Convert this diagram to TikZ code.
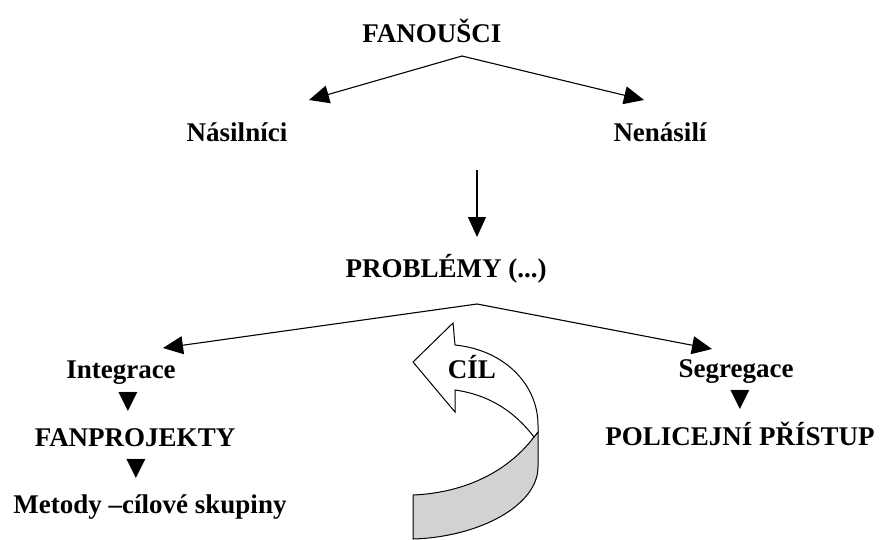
\documentclass[tikz,border=0pt]{standalone}
\usepackage{fontspec}
\setmainfont{Liberation Serif}
\newfontfamily\symfont{DejaVu Sans}
\usetikzlibrary{arrows.meta}
\definecolor{bandgray}{RGB}{210,210,210}

\begin{document}
\begin{tikzpicture}[x=1pt,y=-1pt,
        lbl/.style={font=\fontsize{27}{30}\selectfont\bfseries, inner sep=0pt, anchor=base},
        tri/.style={font=\symfont\fontsize{25}{25}\selectfont, inner sep=0pt},
        arr/.style={line width=1.1pt, -{Triangle[length=20pt,width=18pt]}}]
            \useasboundingbox (0,0) rectangle (881,539);
            % labels
            \node[lbl] (fans) at (432,42) {FANOUŠCI};
            \node[lbl] (nasil) at (237,141) {Násilníci};
            \node[lbl] (nenasil) at (660,141) {Nenásilí};
            \node[lbl] (probl) at (446,277) {PROBLÉMY (...)};
            \node[lbl] (integ) at (121,378) {Integrace};
            \node[tri] (trione) at (128,402) {▼};
            \node[lbl] (fanproj) at (135,446) {FANPROJEKTY};
            \node[tri] (tritwo) at (136,469) {▼};
            \node[lbl] (metody) at (150,513) {Metody –cílové skupiny};
            \node[lbl] (segreg) at (736,377) {Segregace};
            \node[tri] (trithree) at (740,400) {▼};
            \node[lbl] (polic) at (740,445) {POLICEJNÍ PŘÍSTUP};
            % arrows
            \coordinate (forkone) at (462,56);
            \coordinate (forktwo) at (477,304);
            \coordinate (downtop) at (477,170);
            \coordinate (tipnasil) at (309,100);
            \coordinate (tipnenasil) at (644,100);
            \coordinate (tipprobl) at (477,237);
            \coordinate (tipinteg) at (163,348);
            \coordinate (tipsegreg) at (712,349);
            \draw[arr] (forkone) -- (tipnasil);
            \draw[arr] (forkone) -- (tipnenasil);
            \draw[arr] (downtop) -- (tipprobl);
            \draw[arr] (forktwo) -- (tipinteg);
            \draw[arr] (forktwo) -- (tipsegreg);
            % curved arrow
            \draw[line width=1pt, fill=bandgray] (534,437) .. controls (505,475) and (460,493) .. (413,495)
                -- (413,539) .. controls (480,537) and (538,505) .. (538,467) -- (538,432) -- cycle;
            \draw[line width=1pt, fill=white, line join=miter] (413,362) -- (453,323) -- (455,345)
                .. controls (505,350) and (538,385) .. (538,425) -- (538,432) -- (534,437)
                .. controls (515,412) and (490,395) .. (455,390) -- (455,412) -- cycle;
            \node[lbl] (cil) at (472,378) {CÍL};
        \end{tikzpicture}
\end{document}
